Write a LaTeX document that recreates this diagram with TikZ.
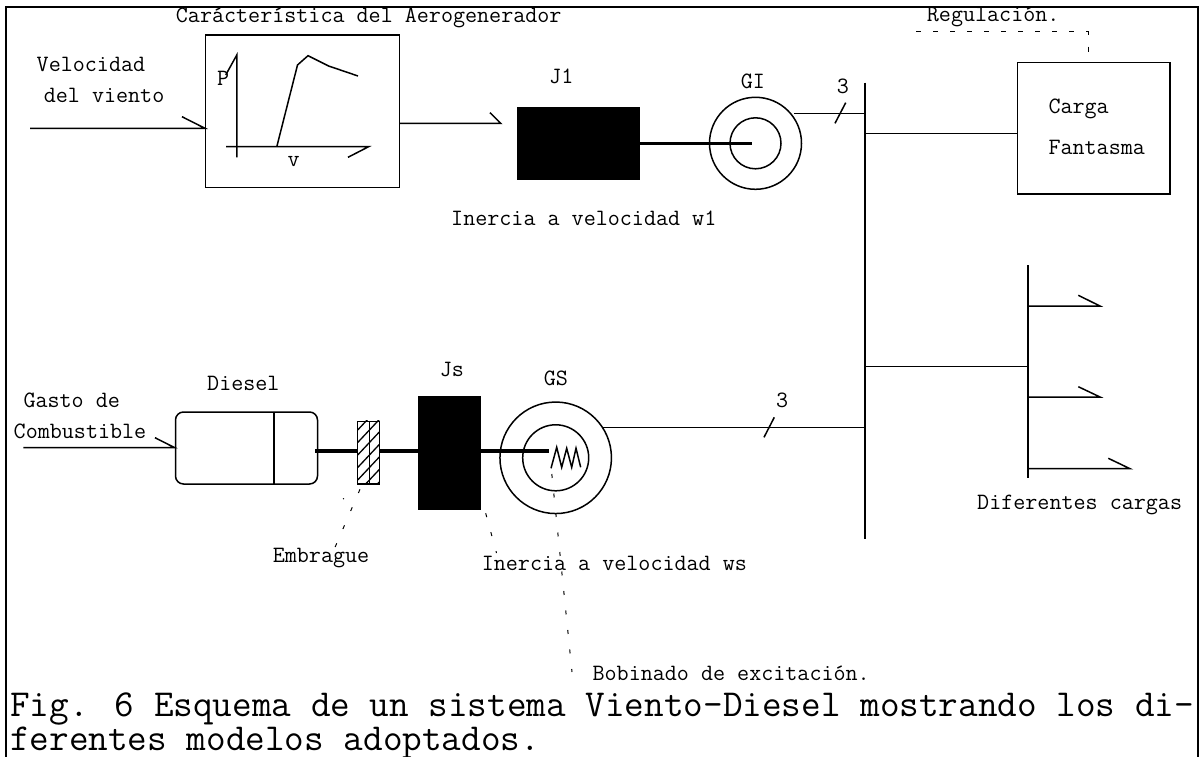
\documentclass[tikz,border=0pt]{standalone}
\tikzset{
  lbl/.style={font=\ttfamily\fontsize{23.4}{24}\selectfont,inner sep=0pt,anchor=base west},
  captionline/.style={font=\ttfamily\fontsize{38.1}{39}\selectfont,inner sep=0pt,anchor=base west},
  line/.style={line width=1.5pt},
  shaft/.style={line width=3.4pt},
  blockbox/.style={draw,line width=1.5pt,inner sep=0pt},
  dots/.style={line width=1pt,dash pattern=on 4pt off 15.6pt},
}
\begin{document}
\begin{tikzpicture}[x=1pt,y=-1pt]
\useasboundingbox (0,0) rectangle (1199,757);
% frame
\draw[line width=2pt] (5.5,757) -- (5.5,7) -- (1198,7) -- (1198,757);
% wind curve box
\node[blockbox,minimum width=193.6pt,minimum height=152.7pt] (curvebox) at (302.5,111.3) {};
\coordinate (windin) at (30,128.3);
\draw[line] (windin) -- (curvebox.west |- windin) -- (182,116.7);
\coordinate (curveout) at (500.7,123.3);
\draw[line] (curvebox.east |- curveout) -- (curveout) -- (490,112.7);
\draw[line] (225.7,75) -- (236.8,55) -- (236.8,157.3);
\draw[line] (226,146.7) -- (368.6,146.7) -- (348,157.3);
\draw[line] (276.8,146.7) -- (297.5,65) -- (308,55.7) -- (328.6,66) -- (358,76);
\node[lbl] (ptext) at (217,86) {P};
\node[lbl] (vtext) at (287.5,166.7) {v};
% J1 and GI
\node[draw,fill=black,line width=1pt,minimum width=122pt,minimum height=72pt,inner sep=0pt] (jone) at (578,143.5) {};
\node[blockbox,circle,minimum size=92pt] (giouter) at (755.5,143.3) {};
\node[blockbox,circle,minimum size=51pt] (giinner) at (755.5,143.3) {};
\coordinate (shaftone) at (751.7,143.3);
\draw[shaft] (jone.east |- shaftone) -- (shaftone);
% bus
\coordinate (bustop) at (865,82.7);
\coordinate (busbottom) at (865,539.3);
\draw[line] (bustop) -- (busbottom);
\coordinate (gibus) at (865,113.3);
\draw[line] (794.3,113.3) -- (gibus);
\draw[line] (835,123.3) -- (845.7,102.7);
% phantom load
\node[blockbox,minimum width=152.7pt,minimum height=131.7pt] (carga) at (1093.6,128.2) {};
\coordinate (cargabus) at (865,133.3);
\draw[line] (cargabus) -- (carga.west |- cargabus);
\draw[dots,dash pattern=on 5pt off 12pt] (916,31.7) -- (1088,31.7) -- (1088,62);
% load branch
\coordinate (loadtop) at (1028,265);
\coordinate (loadbottom) at (1028,478.3);
\draw[line] (loadtop) -- (loadbottom);
\draw[line] (865,366.7) -- (1028,366.7);
\draw[line] (1028,306) -- (1100,306) -- (1078.3,295.3);
\draw[line] (1028,397) -- (1100,397) -- (1078.3,386.7);
\draw[line] (1028,468.7) -- (1130,468.7) -- (1108.3,458.3);
% diesel
\node[blockbox,rounded corners=8pt,minimum width=142pt,minimum height=72pt] (diesel) at (246.5,448) {};
\draw[line] (273.9,412) -- (273.9,484);
\coordinate (fuelin) at (23.3,447.7);
\draw[line] (fuelin) -- (diesel.west |- fuelin) -- (155,437.7);
% clutch
\node[blockbox,minimum width=21.6pt,minimum height=62.3pt] (clutch) at (368.5,452.8) {};
\begin{scope}
\clip (clutch.south west) rectangle (clutch.north east);
\foreach \y in {430,442.5,...,505} \draw[line width=1.3pt] (357.7,\y) -- (379.3,\y-23);
\end{scope}
\draw[line] (369.3,421.7) -- (369.3,484);
% Js and GS
\node[draw,fill=black,line width=1pt,minimum width=61.6pt,minimum height=112.6pt,inner sep=0pt] (js) at (449.6,453) {};
\node[blockbox,circle,minimum size=111.5pt] (gsouter) at (555.7,457.8) {};
\node[blockbox,circle,minimum size=66pt] (gsinner) at (555.7,457.8) {};
\coordinate (shaftend) at (549,451);
\draw[shaft] (315,451) -- (clutch.west |- shaftend);
\draw[shaft] (clutch.east |- shaftend) -- (js.west |- shaftend);
\draw[shaft] (js.east |- shaftend) -- (shaftend);
\draw[line] (551,468.3) -- (556.7,447.3) -- (561.7,467.3) -- (566.7,448.3) -- (571.7,467.3) -- (576,448.3) -- (580.7,467.3);
\coordinate (gsbus) at (865,427.7);
\draw[line] (603,427.7) -- (gsbus);
\draw[line] (764,437.3) -- (774.3,417.3);
% pointer lines
\draw[dots] (360,489.3) -- (333,552);
\draw[dots] (343,499) -- (344,498.5);
\draw[dots] (485.7,513.3) -- (496.5,553);
\draw[dots] (551.8,474) -- (572,672);
% labels
\node[lbl] (curvetitle) at (175.7,22.7) {Carácterística del Aerogenerador};
\node[lbl] (windone) at (36.5,71.5) {Velocidad};
\node[lbl] (windtwo) at (43.6,102.7) {del viento};
\node[lbl] (jonetext) at (549,83.3) {J1};
\node[lbl] (gitext) at (740.7,88.3) {GI};
\node[lbl] (threeone) at (836.7,93.3) {3};
\node[lbl] (regtext) at (926.7,22) {Regulación.};
\node[lbl] (cargaone) at (1048.3,113.3) {Carga};
\node[lbl] (cargatwo) at (1048.3,154) {Fantasma};
\node[lbl] (inerone) at (451,225) {Inercia a velocidad w1};
\node[lbl] (fuelone) at (23.3,407.3) {Gasto de};
\node[lbl] (fueltwo) at (13.5,438.3) {Combustible};
\node[lbl] (dieseltext) at (207,390.7) {Diesel};
\node[lbl] (jstext) at (439.6,376.7) {Js};
\node[lbl] (gstext) at (543.7,385.3) {GS};
\node[lbl] (threetwo) at (776,407.3) {3};
\node[lbl] (cargastext) at (977,509.3) {Diferentes cargas};
\node[lbl] (embtext) at (272.6,562.7) {Embrague};
\node[lbl] (inerstext) at (481.6,570.7) {Inercia a velocidad ws};
\node[lbl] (bobtext) at (592.4,680.7) {Bobinado de excitación.};
\node[captionline] (captionone) at (10,716) {Fig. 6 Esquema de un sistema Viento-Diesel mostrando los di-};
\node[captionline] (captiontwo) at (10,750) {ferentes modelos adoptados.};
\end{tikzpicture}
\end{document}
